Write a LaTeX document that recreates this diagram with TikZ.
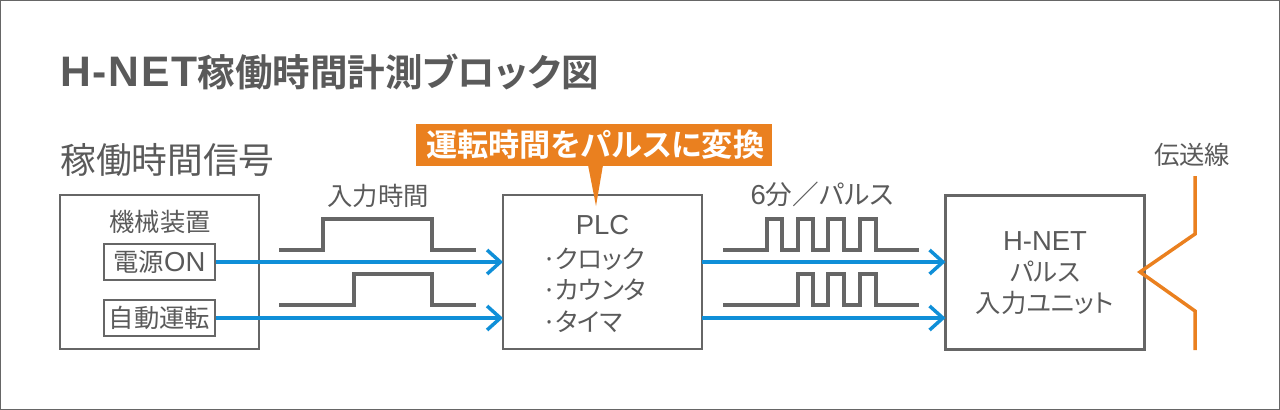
\documentclass[tikz,border=0pt]{standalone}
\usepackage{fontspec}
\usetikzlibrary{arrows.meta}
\newfontfamily\cjk[RawFeature=+palt]{Noto Sans CJK JP}
\newfontfamily\cjkb[BoldFont=Noto Sans CJK JP Bold,RawFeature=+palt]{Noto Sans CJK JP}
\newfontfamily\lat{Liberation Sans}
\newfontfamily\latt[LetterSpace=4]{Liberation Sans}
\definecolor{linegray}{HTML}{666666}
\definecolor{textgray}{HTML}{5A5A5A}
\definecolor{flowblue}{HTML}{0F8FD8}
\definecolor{accent}{HTML}{EA801F}
\newcommand{\txt}{\fontsize{19}{23.5}\selectfont\cjk}
\newcommand{\tla}[1]{{\fontsize{20.6}{23.5}\selectfont\lat #1}}
\tikzset{
  x=0.75pt,y=-0.75pt,
  box/.style={draw=linegray,line width=2pt,inner sep=0pt,outer sep=0pt,fill=white,minimum width=149.25pt,minimum height=115.5pt},
  inbox/.style={draw=linegray,line width=1.7pt,inner sep=0pt,fill=white,minimum width=83.25pt,minimum height=27pt,text=textgray,font=\txt},
  lab/.style={inner sep=0pt,text=textgray,font=\txt},
  sig/.style={draw=linegray,line width=2.6pt,line join=miter},
  flow/.style={draw=flowblue,line width=2.6pt,-{Straight Barb[length=10pt,width=18pt,line width=2.6pt]}},
  wire/.style={draw=accent,line width=2.6pt,line join=miter},
}
\begin{document}
\begin{tikzpicture}
\useasboundingbox (0,0) rectangle (1280,410);
\draw[linegray,line width=0.9pt] (0.6,0.6) rectangle (1279.4,409.4);

\node[inner sep=0pt,anchor=west,text=textgray] (title) at (60,72)
  {\bfseries{\fontsize{32}{34}\selectfont\latt H-NET}{\fontsize{28.2}{34}\selectfont\cjkb\bfseries 稼働時間計測ブロック図}};
\node[inner sep=0pt,anchor=west,text=textgray] (sigtitle) at (60,160)
  {\fontsize{26.8}{30}\selectfont\cjk 稼働時間信号};

\node[box] (mach) at (159.5,272) {};
\node[box] (plc) at (602.5,272) {};
\node[box] (hnet) at (1045,272.5) {};

\node[inbox] (pwr) at (159.5,262) {\cjk 電源\tla{ON}};
\node[inbox] (auto) at (159.5,318) {自動運転};
\node[lab] (machl) at (160,222) {機械装置};

\node[lab] (inl) at (378,196) {入力時間};
\node[lab] (pulsel) at (822,194) {\tla{6}{\fontsize{20}{23.5}\selectfont\cjk 分／パルス}};
\node[lab] (wirel) at (1192,155) {伝送線};

\node[lab] (plcl) at (602.5,225) {\tla{PLC}};
\node[lab,anchor=west] (l1) at (544,259) {\kern-1pt·\kern-1.5ptクロック};
\node[lab,anchor=west] (l2) at (544,290) {\kern-1pt·\kern-1.5ptカウンタ};
\node[lab,anchor=west] (l3) at (544,322) {\kern-1pt·\kern-1.5ptタイマ};

\node[lab,align=center] (hnetl) at (1045,273) {\tla{H-NET}\\パルス\\入力ユニット};

\coordinate (tipl) at (588,165);
\coordinate (tipr) at (603,165);
\coordinate (tip) at (596,206);
\fill[accent] (tipl) -- (tip) -- (tipr) -- cycle;
\node[fill=accent,inner sep=0pt,minimum width=267pt,minimum height=31.5pt,text=white] (call) at (594,145)
  {\fontsize{23.4}{26}\selectfont\kern2pt\cjkb\bfseries 運転時間をパルスに変換};

\draw[flow] (pwr.east) -- (plc.west |- pwr.east);
\draw[flow] (auto.east) -- (plc.west |- auto.east);
\draw[flow] (plc.east |- pwr.east) -- (hnet.west |- pwr.east);
\draw[flow] (plc.east |- auto.east) -- (hnet.west |- auto.east);

\draw[sig] (279,250) -- (323,250) -- (323,219) -- (432,219) -- (432,250) -- (476,250);
\draw[sig] (279,305) -- (354,305) -- (354,274) -- (432,274) -- (432,305) -- (476,305);
\draw[sig] (723,250) -- (767,250) -- (767,219) -- (782,219) -- (782,250) -- (798,250) -- (798,219) -- (813,219) -- (813,250) -- (828,250) -- (828,219) -- (844,219) -- (844,250) -- (860,250) -- (860,219) -- (876,219) -- (876,250) -- (919,250);
\draw[sig] (723,305) -- (798,305) -- (798,274) -- (813,274) -- (813,305) -- (828,305) -- (828,274) -- (844,274) -- (844,305) -- (860,305) -- (860,274) -- (876,274) -- (876,305) -- (919,305);

\coordinate (w1) at (1195,176);
\coordinate (w2) at (1195,234);
\coordinate (w3) at (1140,272);
\coordinate (w4) at (1195,311);
\coordinate (w5) at (1195,350);
\draw[wire] (w1) -- (w2) -- (w3) -- (w4) -- (w5);
\end{tikzpicture}
\end{document}
